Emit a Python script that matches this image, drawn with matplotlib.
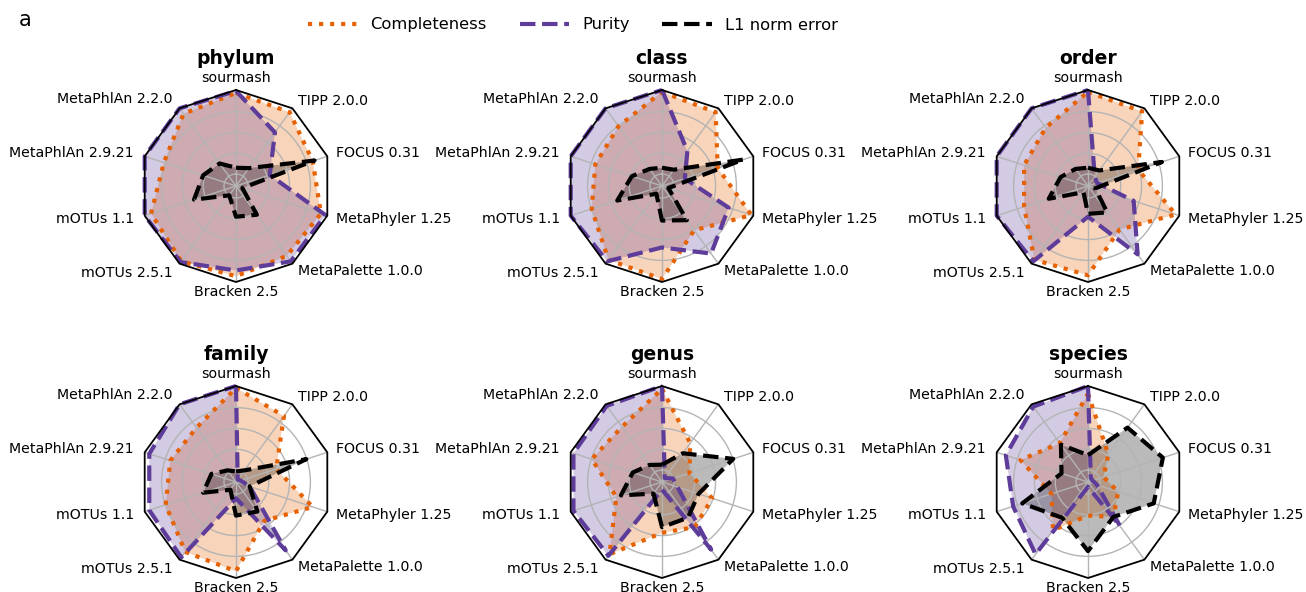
import numpy as np
import matplotlib
matplotlib.use("Agg")
import matplotlib.pyplot as plt
from matplotlib.lines import Line2D

plt.rcParams['font.family'] = ['DejaVu Sans']

tools = ['sourmash', 'TIPP 2.0.0', 'FOCUS 0.31', 'MetaPhyler 1.25', 'MetaPalette 1.0.0',
         'Bracken 2.5', 'mOTUs 2.5.1', 'mOTUs 1.1', 'MetaPhlAn 2.9.21', 'MetaPhlAn 2.2.0']
ranks = ['phylum', 'class', 'order', 'family', 'genus', 'species']

# values as fraction of the panel radius (clockwise from top)
completeness_phylum = [0.97, 0.95, 0.84, 0.93, 0.90, 0.94, 0.97, 0.93, 0.79, 0.93]
purity_phylum       = [0.99, 0.69, 0.37, 0.98, 0.97, 0.88, 0.98, 1.00, 1.00, 1.00]
l1_phylum           = [0.19, 0.23, 0.86, 0.07, 0.37, 0.32, 0.12, 0.46, 0.36, 0.29]

completeness_class = [0.98, 0.95, 0.61, 0.98, 0.57, 0.97, 0.95, 0.77, 0.73, 0.77]
purity_class       = [1.00, 0.45, 0.25, 0.73, 0.87, 0.64, 0.97, 1.00, 1.00, 1.00]
l1_class           = [0.19, 0.21, 0.89, 0.07, 0.44, 0.36, 0.10, 0.49, 0.33, 0.22]

completeness_order = [0.98, 0.96, 0.55, 0.96, 0.56, 0.93, 0.95, 0.70, 0.70, 0.75]
purity_order       = [1.00, 0.12, 0.10, 0.50, 0.88, 0.32, 0.97, 1.00, 1.00, 1.00]
l1_order           = [0.19, 0.20, 0.81, 0.08, 0.34, 0.29, 0.08, 0.43, 0.30, 0.22]

completeness_family = [0.98, 0.85, 0.44, 0.84, 0.50, 0.93, 0.90, 0.77, 0.72, 0.70]
purity_family       = [1.00, 0.03, 0.05, 0.15, 0.88, 0.17, 0.97, 0.95, 0.95, 1.00]
l1_family           = [0.11, 0.15, 0.77, 0.15, 0.38, 0.35, 0.10, 0.36, 0.27, 0.15]

completeness_genus = [0.97, 0.50, 0.30, 0.55, 0.58, 0.53, 0.93, 0.50, 0.77, 0.71]
purity_genus       = [1.00, 0.05, 0.12, 0.17, 0.87, 0.08, 0.95, 0.97, 0.97, 0.98]
l1_genus           = [0.18, 0.37, 0.78, 0.40, 0.46, 0.47, 0.15, 0.45, 0.32, 0.22]

completeness_species = [0.92, 0.36, 0.17, 0.33, 0.45, 0.35, 0.62, 0.40, 0.74, 0.50]
purity_species       = [1.00, 0.05, 0.05, 0.10, 0.57, 0.05, 0.93, 0.82, 0.90, 0.97]
l1_species           = [0.28, 0.70, 0.82, 0.72, 0.45, 0.72, 0.46, 0.72, 0.29, 0.48]

data = {
    'phylum': (completeness_phylum, purity_phylum, l1_phylum),
    'class': (completeness_class, purity_class, l1_class),
    'order': (completeness_order, purity_order, l1_order),
    'family': (completeness_family, purity_family, l1_family),
    'genus': (completeness_genus, purity_genus, l1_genus),
    'species': (completeness_species, purity_species, l1_species),
}

grid_r = [0.125, 0.341, 0.558, 0.775]

C_ORANGE = '#e66101'
C_PURPLE = '#5e3c99'
C_BLACK = '#000000'

W, H = 1306, 592
fig = plt.figure(figsize=(W / 100, H / 100), dpi=100)

centers_x = [236, 662, 1088]
centers_y = [186, 482]
R = 96

n = len(tools)
angles = np.linspace(0, 2 * np.pi, n, endpoint=False)
ang_c = np.concatenate([angles, angles[:1]])

for i, rank in enumerate(ranks):
    cx = centers_x[i % 3]
    cy = centers_y[i // 3]
    ax = fig.add_axes([(cx - R) / W, (H - cy - R) / H, 2 * R / W, 2 * R / H], projection='polar')
    ax.set_theta_offset(np.pi / 2)
    ax.set_theta_direction(-1)
    ax.set_ylim(0, 1)
    ax.set_xticks(angles)
    ax.set_xticklabels([])
    ax.set_yticks(grid_r)
    ax.set_yticklabels([])
    ax.tick_params(length=0)
    ax.set_axisbelow(False)
    ax.grid(color='#b4b4b4', lw=1.0, zorder=2.5)
    ax.spines['polar'].set_visible(False)
    ax.patch.set_alpha(0)

    comp, pur, l1 = data[rank]
    for vals, col in [(comp, C_ORANGE), (pur, C_PURPLE), (l1, C_BLACK)]:
        v = np.concatenate([vals, vals[:1]])
        ax.fill(ang_c, v, color=col, alpha=0.27, lw=0, zorder=2)
    for vals, col, ls in [(comp, C_ORANGE, ':'), (pur, C_PURPLE, '--'), (l1, C_BLACK, '--')]:
        v = np.concatenate([vals, vals[:1]])
        ax.plot(ang_c, v, color=col, ls=ls, lw=3.0, zorder=3, clip_on=False)

    ax.plot(ang_c, np.ones_like(ang_c), color='black', lw=1.3, zorder=4, clip_on=False)

    for a, lab in zip(angles, tools):
        s = np.sin(a)
        if abs(s) < 1e-6:
            ha = 'center'
            rr = 1.12 if np.cos(a) > 0 else 1.1
        elif s > 0:
            ha = 'left'
            rr = 1.1
        else:
            ha = 'right'
            rr = 1.12
        ax.text(a, rr, lab, ha=ha, va='center', fontsize=10.2)

    fig.text(cx / W, 1 - (cy - 128) / H, rank, ha='center', va='center',
             fontsize=13.5, fontweight='bold')

fig.text(25 / W, 1 - 20 / H, 'a', ha='center', va='center', fontsize=15)

handles = [Line2D([], [], color=C_ORANGE, ls=':', lw=3.0),
           Line2D([], [], color=C_PURPLE, ls='--', lw=3.0),
           Line2D([], [], color=C_BLACK, ls='--', lw=3.0)]
fig.legend(handles, ['Completeness', 'Purity', 'L1 norm error'], loc='center',
           bbox_to_anchor=(573 / W, 1 - 25 / H), ncol=3, frameon=False,
           fontsize=11.8, handlelength=3.0, columnspacing=2.0)

fig.savefig('out.png', dpi=100)
